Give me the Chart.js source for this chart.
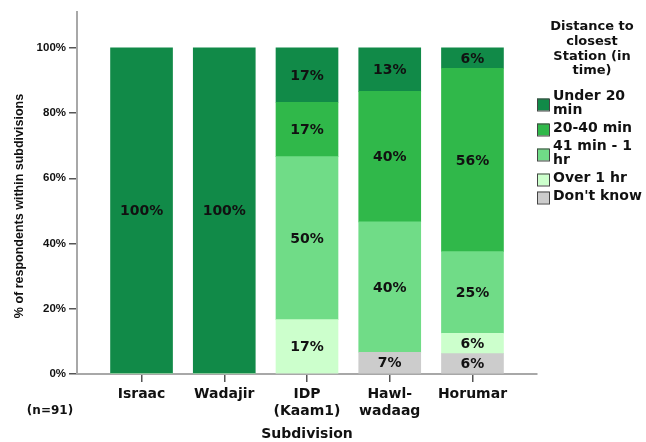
<!DOCTYPE html>
<html lang="en">
<head>
<meta charset="UTF-8">
<title>Distance to closest station by subdivision</title>
<script src="https://cdn.jsdelivr.net/npm/chart.js"></script>
<style>
    html, body { margin: 0; padding: 0; background: #fff; }
    canvas { display: block; }
</style>
</head>
<body>
<canvas id="chart" width="646" height="442"></canvas>
<script>
// categories (label lines as printed under the axis)
const subdivisions = [['Israac'], ['Wadajir'], ['IDP', '(Kaam1)'], ['Hawl-', 'wadaag'], ['Horumar']];
const yTicks = [0, 20, 40, 60, 80, 100];

// % of respondents, stacked bottom -> top
const dontKnow   = [0, 0, 0, 6.67, 6.25];
const over1hr    = [0, 0, 16.67, 0, 6.25];
const min41to1hr = [0, 0, 50, 40, 25];
const min20to40  = [0, 0, 16.67, 40, 56.25];
const under20    = [100, 100, 16.67, 13.33, 6.25];

const seriesNames = [['Don\'t know'], ['Over 1 hr'], ['41 min - 1', 'hr'], ['20-40 min'], ['Under 20', 'min']];
const seriesValues = [dontKnow, over1hr, min41to1hr, min20to40, under20];
const seriesColors = ['#cccccc', '#ccffcc', '#70dc87', '#30b84a', '#118a48'];

const legendTitle = ['Distance to', 'closest', 'Station (in', 'time)'];
const sampleNote = '(n=91)';

const BOLD = 'bold 14px "DejaVu Sans"';

// value labels in the middle of each segment
const segmentLabels = {
    id: 'segmentLabels',
    afterDatasetsDraw(chart) {
        const ctx = chart.ctx;
        ctx.save();
        ctx.font = BOLD;
        ctx.fillStyle = '#111';
        ctx.textAlign = 'center';
        ctx.textBaseline = 'middle';
        chart.data.datasets.forEach((ds, di) => {
            const meta = chart.getDatasetMeta(di);
            meta.data.forEach((bar, i) => {
                const v = ds.data[i].y;
                if (!v) return;
                ctx.fillText(Math.round(v) + '%', bar.x, (bar.y + bar.base) / 2 + 1);
            });
        });
        ctx.restore();
    }
};

// titles, sample size and the legend box on the right
const extras = {
    id: 'extras',
    afterDraw(chart) {
        const ctx = chart.ctx;
        const area = chart.chartArea;
        ctx.save();
        ctx.fillStyle = '#111';
        ctx.textBaseline = 'middle';

        // y title
        ctx.save();
        ctx.translate(19.5, 206);
        ctx.rotate(-Math.PI / 2);
        ctx.textAlign = 'center';
        ctx.font = 'bold 12.5px "Liberation Sans"';
        ctx.fillText('% of respondents within subdivisions', 0, 0);
        ctx.restore();

        // x title
        ctx.textAlign = 'center';
        ctx.font = BOLD;
        ctx.fillText('Subdivision', (area.left + area.right) / 2, 434);

        ctx.font = 'bold 12px "DejaVu Sans"';
        ctx.fillText(sampleNote, 50, 411);

        // legend title
        ctx.font = 'bold 13px "DejaVu Sans"';
        legendTitle.forEach((line, i) => ctx.fillText(line, 592, 27 + i * 14.7));

        // legend items, top series first
        ctx.textAlign = 'left';
        ctx.font = BOLD;
        let y = 96;
        for (let s = seriesNames.length - 1; s >= 0; s--) {
            const lines = seriesNames[s];
            const mid = y + (lines.length - 1) * 14 / 2 + 1.5;
            ctx.fillStyle = seriesColors[s];
            ctx.fillRect(537, mid - 6, 12, 12);
            ctx.strokeStyle = '#444';
            ctx.lineWidth = 1;
            ctx.strokeRect(537.5, mid - 5.5, 12, 12);
            ctx.fillStyle = '#111';
            lines.forEach((line, k) => ctx.fillText(line, 553, y + k * 14));
            y += (lines.length - 1) * 14 + 18;
        }
        ctx.restore();
    }
};

new Chart(document.getElementById('chart'), {
    type: 'bar',
    data: {
        datasets: seriesValues.map((vals, s) => ({
            label: seriesNames[s].join(' '),
            data: vals.map((v, i) => ({ x: i, y: v })),
            backgroundColor: seriesColors[s],
            borderWidth: 0,
            barThickness: 62
        }))
    },
    options: {
        responsive: false,
        devicePixelRatio: 1,
        animation: false,
        layout: { padding: { left: 0, right: 109, top: 12, bottom: 0 } },
        plugins: {
            legend: { display: false },
            tooltip: { enabled: false }
        },
        scales: {
            x: {
                type: 'linear',
                stacked: true,
                offset: false,
                min: -0.78,
                max: 4.78,
                afterBuildTicks: axis => { axis.ticks = subdivisions.map((_, i) => ({ value: i })); },
                afterFit: axis => { axis.height = 68; },
                ticks: {
                    autoSkip: false,
                    maxRotation: 0,
                    padding: 4,
                    color: '#111',
                    font: { family: 'DejaVu Sans', weight: 'bold', size: 14, lineHeight: 1.2 },
                    callback: v => subdivisions[v] || ''
                },
                grid: { offset: false, drawOnChartArea: false, drawTicks: true, tickLength: 8, color: '#555', lineWidth: 1.5 },
                border: { color: '#a8a8a8', width: 2 }
            },
            y: {
                stacked: true,
                min: 0,
                max: 111,
                afterBuildTicks: axis => { axis.ticks = yTicks.map(v => ({ value: v })); },
                afterFit: axis => { axis.width = 77; },
                ticks: {
                    padding: 3,
                    color: '#111',
                    font: { family: 'Liberation Sans', weight: 'bold', size: 11.5 },
                    callback: v => v + '%'
                },
                grid: { drawOnChartArea: false, drawTicks: true, tickLength: 8, color: '#555', lineWidth: 1.5 },
                border: { color: '#a8a8a8', width: 2 }
            }
        }
    },
    plugins: [segmentLabels, extras]
});
</script>
</body>
</html>
